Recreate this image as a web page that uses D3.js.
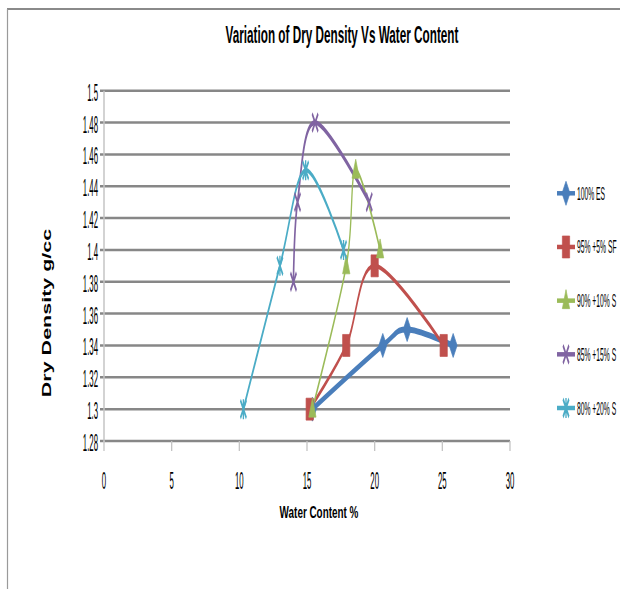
<!DOCTYPE html>
<html>
<head>
<meta charset="utf-8">
<script src="https://cdn.jsdelivr.net/npm/d3@7"></script>
<style>
  html, body { margin: 0; padding: 0; background: #fff; overflow: hidden; }
  svg { display: block; }
  text { font-family: "Liberation Sans", Arial, sans-serif; fill: #000; }
</style>
</head>
<body>
<svg id="chart" width="620" height="589"></svg>
<script>
// ---- data ----
const chartTitle = "Variation of Dry Density Vs Water Content";
const xTitle = "Water Content %";
const yTitle = "Dry Density g/cc";
const xTicks = [0, 5, 10, 15, 20, 25, 30];
const yTicks = [1.28, 1.30, 1.32, 1.34, 1.36, 1.38, 1.40, 1.42, 1.44, 1.46, 1.48, 1.50];
const yTickLabels = ["1.28", "1.3", "1.32", "1.34", "1.36", "1.38", "1.4", "1.42", "1.44", "1.46", "1.48", "1.5"];

const seriesNames = ["100% ES", "95% +5% SF", "90% +10% S", "85% +15% S", "80% +20% S"];
const seriesColors = ["#4a7ebb", "#c0504d", "#9bbb59", "#8064a2", "#4bacc6"];
const seriesMarkers = ["diamond", "square", "triangle", "x", "star"];

const es100Water = [15.4, 20.6, 22.4, 25.8];
const es100Density = [1.30, 1.34, 1.35, 1.34];
const sf5Water = [15.2, 17.9, 20.0, 25.1];
const sf5Density = [1.30, 1.34, 1.39, 1.34];
const s10Water = [15.4, 17.9, 18.6, 20.4];
const s10Density = [1.30, 1.39, 1.45, 1.40];
const s15Water = [14.0, 14.3, 15.6, 19.6];
const s15Density = [1.38, 1.43, 1.48, 1.43];
const s20Water = [10.3, 13.0, 14.9, 17.7];
const s20Density = [1.30, 1.39, 1.45, 1.40];

const seriesWater = [es100Water, sf5Water, s10Water, s15Water, s20Water];
const seriesDensity = [es100Density, sf5Density, s10Density, s15Density, s20Density];
const lineWidths = [6, 4.5, 4, 5, 4.5];

// ---- layout ----
const svg = d3.select("#chart");
const squeeze = 0.33;           // horizontal compression of the plot artwork
const plotLeft = 104, plotRight = 510, plotTop = 90.7, plotBottom = 441;

const x = d3.scaleLinear().domain([0, 30]).range([plotLeft / squeeze, plotRight / squeeze]);
const y = d3.scaleLinear().domain([1.28, 1.50]).range([plotBottom, plotTop]);

// outer frame (top and left edges)
svg.append("line").attr("x1", 7).attr("x2", 620).attr("y1", 9).attr("y2", 9)
  .attr("stroke", "#8a8a8a").attr("stroke-width", 2);
svg.append("line").attr("x1", 7.5).attr("x2", 7.5).attr("y1", 9).attr("y2", 589)
  .attr("stroke", "#9a9a9a").attr("stroke-width", 1.2);

function condensedText(sel, tx, ty, sx, rot) {
  return sel.attr("transform", `translate(${tx},${ty}) scale(${sx},1)` + (rot ? ` rotate(${rot})` : ""));
}

// title
condensedText(svg.append("text").text(chartTitle)
  .attr("text-anchor", "middle").attr("font-size", 23).attr("font-weight", "bold"), 342, 43, 0.51);

// gridlines
svg.append("g").selectAll("line").data(yTicks).join("line")
  .attr("x1", plotLeft - 4).attr("x2", plotRight)
  .attr("y1", d => y(d)).attr("y2", d => y(d))
  .attr("stroke", "#878787").attr("stroke-width", 2.5);

// y axis line
svg.append("line").attr("x1", plotLeft).attr("x2", plotLeft)
  .attr("y1", plotTop).attr("y2", plotBottom + 1)
  .attr("stroke", "#c4c4c4").attr("stroke-width", 1.5);

// x axis ticks
svg.append("g").selectAll("line").data(xTicks).join("line")
  .attr("x1", d => x(d) * squeeze).attr("x2", d => x(d) * squeeze)
  .attr("y1", plotBottom).attr("y2", plotBottom + 10)
  .attr("stroke", "#c4c4c4").attr("stroke-width", 1.3);

// y tick labels
svg.append("g").selectAll("text").data(yTicks).join("text")
  .text((d, i) => yTickLabels[i])
  .attr("text-anchor", "end").attr("font-size", 23)
  .attr("transform", d => `translate(98,${y(d) + 10}) scale(0.34,1)`);

// x tick labels
svg.append("g").selectAll("text").data(xTicks).join("text")
  .text(d => d)
  .attr("text-anchor", "middle").attr("font-size", 23)
  .attr("transform", d => `translate(${x(d) * squeeze},${489}) scale(0.34,1)`);

// axis titles
condensedText(svg.append("text").text(xTitle)
  .attr("text-anchor", "middle").attr("font-size", 16.5).attr("font-weight", "bold"), 319, 518, 0.6);
condensedText(svg.append("text").text(yTitle)
  .attr("text-anchor", "middle").attr("font-size", 21.5).attr("font-weight", "bold")
  .attr("dy", "0.35em"), 46, 313, 0.6, -90);

// marker shapes, drawn in unsqueezed units
function markerPath(type) {
  switch (type) {
    case "diamond": return "M0,-12L12,0L0,12L-12,0Z";
    case "square": return "M-11,-11H11V11H-11Z";
    case "triangle": return "M0,-11L11,8L-11,8Z";
    case "x": return "M-9,-9L9,9M-9,9L9,-9";
    case "star": return "M-9,-9L9,9M-9,9L9,-9M0,-10V10";
  }
}
function drawMarker(g, type, color, cx, cy) {
  const filled = type === "diamond" || type === "square" || type === "triangle";
  g.append("path").attr("d", markerPath(type))
    .attr("transform", `translate(${cx},${cy})`)
    .attr("fill", filled ? color : "none")
    .attr("stroke", color)
    .attr("stroke-width", filled ? 1 : 4);
}

// series lines and markers
const plot = svg.append("g").attr("transform", `scale(${squeeze},1)`);
const line = d3.line().curve(d3.curveCatmullRom.alpha(0))
  .x(d => x(d[0])).y(d => y(d[1]));

seriesNames.forEach((name, i) => {
  const pts = seriesWater[i].map((w, j) => [w, seriesDensity[i][j]]);
  plot.append("path").attr("d", line(pts))
    .attr("fill", "none").attr("stroke", seriesColors[i])
    .attr("stroke-width", lineWidths[i]).attr("stroke-linejoin", "round").attr("stroke-linecap", "round");
});
seriesNames.forEach((name, i) => {
  seriesWater[i].forEach((w, j) => drawMarker(plot, seriesMarkers[i], seriesColors[i], x(w), y(seriesDensity[i][j])));
});

// legend
const legendY = d3.scaleLinear().domain([0, 4]).range([193.3, 408]);
seriesNames.forEach((name, i) => {
  const ly = legendY(i);
  plot.append("line").attr("x1", 557 / squeeze).attr("x2", 575 / squeeze)
    .attr("y1", ly).attr("y2", ly)
    .attr("stroke", seriesColors[i]).attr("stroke-width", 4.5);
  drawMarker(plot, seriesMarkers[i], seriesColors[i], 566 / squeeze, ly);
  svg.append("text").text(name)
    .attr("font-size", 19)
    .attr("transform", `translate(577,${ly + 6.5}) scale(0.355,1)`);
});
</script>
</body>
</html>
